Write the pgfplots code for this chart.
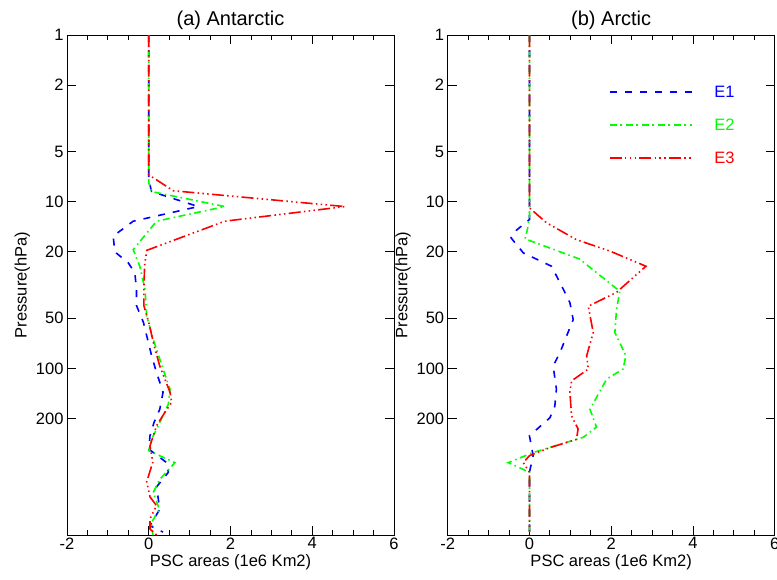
\documentclass[border=0pt]{standalone}
\usepackage{fontspec}
\setmainfont{Liberation Sans}
\usepackage{pgfplots}
\pgfplotsset{compat=1.18}

\definecolor{cb}{RGB}{0,0,255}
\definecolor{cg}{RGB}{0,255,0}
\definecolor{cr}{RGB}{255,0,0}

\pgfplotsset{
  panel/.style={
    width=327pt, height=500pt, scale only axis,
    xmin=-2, xmax=6, xtick={-2,0,2,4,6}, xticklabels={-2,0,2,4,6},
    minor x tick num=3,
    ymin=1, ymax=1000, y dir=reverse,
    ytick={1,2,5,10,20,50,100,200},
    yticklabels={1,2,5,10,20,50,100,200},
    yminorticks=false,
    tick align=inside,
    major tick length=9pt, minor tick length=5pt,
    axis line style={line width=0.9pt},
    every tick/.style={black, line width=0.8pt},
    tick label style={font=\fontsize{16.5}{18}\selectfont},
    xticklabel style={yshift=1pt},
    label style={font=\fontsize{16.5}{18}\selectfont},
    title style={font=\fontsize{20}{22}\selectfont, yshift=-4pt},
    xlabel={PSC areas (1e6 Km2)},
    ylabel={Pressure(hPa)},
    xlabel style={yshift=1.5pt},
    ylabel style={yshift=-1pt},
  },
  e1/.style={cb, line width=1.6pt, dash pattern=on 7pt off 8pt},
  e2/.style={cg, line width=1.6pt, dash pattern=on 7pt off 3.5pt on 1.5pt off 4pt},
  e3/.style={cr, line width=1.6pt, dash pattern=on 12pt off 3.3pt on 1.5pt off 3.3pt on 1.5pt off 3.3pt on 1.5pt off 3.3pt},
}

\begin{document}
\begin{tikzpicture}
% (a) Antarctic
\begin{axis}[ymode=log, panel, at={(0pt,0pt)}, title={(a) Antarctic}]
\addplot[e1] coordinates {
  (0,1) (0,7.4) (0.07,8.7) (1.21,10.7) (-0.38,13.1) (-0.87,16.1) (-0.83,20)
  (-0.5,23.3) (-0.34,26.7) (-0.3,33.6) (-0.3,42) (-0.13,53) (0.07,84)
  (0.19,106) (0.35,139) (0.27,176) (0.13,211) (0.03,254) (0,305) (0.44,368)
  (0.48,420) (0.19,515) (0.27,700) (0.03,880) (0.35,960)
};
\addplot[e2] coordinates {
  (0,1) (0,7.7) (0.07,8.7) (1.86,10.7) (0.19,13.1) (-0.38,19.4) (-0.22,24.4)
  (-0.09,33.6) (-0.05,48.6) (0.11,67) (0.35,101) (0.52,133) (0.48,164)
  (0.27,211) (0.07,267) (0,312) (0.64,368) (0.27,464) (0.11,556) (0.26,700)
  (0.07,840) (0.1,1000)
};
\addplot[e3] coordinates {
  (0,1) (0,6.9) (0.6,8.6) (4.8,10.7) (1.86,13.1) (-0.05,19.6) (-0.1,24)
  (-0.12,33.6) (-0.12,42) (0,53) (0.13,73) (0.27,97) (0.52,139) (0.56,160)
  (0.4,183) (0.19,221) (0.03,292) (0.1,365) (-0.05,480) (0.03,590)
  (0.19,667) (0.03,800) (0.03,920) (0.19,1000)
};
\end{axis}

% (b) Arctic
\begin{axis}[ymode=log, panel, at={(380.7pt,0pt)}, title={(b) Arctic},
  legend style={draw=none, fill=none, at={(axis description cs:0.483,0.907)},
    anchor=north west, row sep=16pt, column sep=20pt,
    font=\fontsize{16.5}{18}\selectfont},
  legend cell align=left,
  legend image code/.code={\draw[#1] (0pt,0pt) -- (82pt,0pt);},
]
\addplot[e1] coordinates {
  (0,1) (0,12.8) (-0.4,15.4) (-0.45,16.5) (-0.15,20.3) (0.54,24.4) (0.83,33.6)
  (0.99,40.4) (1.07,51) (0.75,80) (0.58,97) (0.66,133) (0.62,169) (0.5,198)
  (0,254) (0.09,334) (0,420) (0,1000)
};
\addlegendentry{\textcolor{cb}{E1}}
\addplot[e2] coordinates {
  (0,1) (0,12.2) (-0.05,14.7) (-0.11,16.7) (1.23,22.1) (2.21,34.5) (2.13,44.4)
  (2.09,61) (2.36,84) (2.29,101) (1.89,116) (1.48,176) (1.64,225) (1.32,259)
  (0.09,320) (-0.52,368) (0,420) (0,1000)
};
\addlegendentry{\textcolor{cg}{E2}}
\addplot[e3] coordinates {
  (0,1) (0,10.9) (0.42,13.4) (1.15,16.9) (1.97,19.8) (2.85,24.4) (2.13,35)
  (1.44,42.4) (1.56,61) (1.4,84) (1.44,101) (1.03,119) (0.99,139) (1.03,193)
  (1.19,231) (1.15,267) (0.5,299) (0,334) (-0.15,368) (0,420) (0,1000)
};
\addlegendentry{\textcolor{cr}{E3}}
\end{axis}

\pgfresetboundingbox
\useasboundingbox (-67pt,-44pt) rectangle (710pt,535pt);
\end{tikzpicture}
\end{document}
